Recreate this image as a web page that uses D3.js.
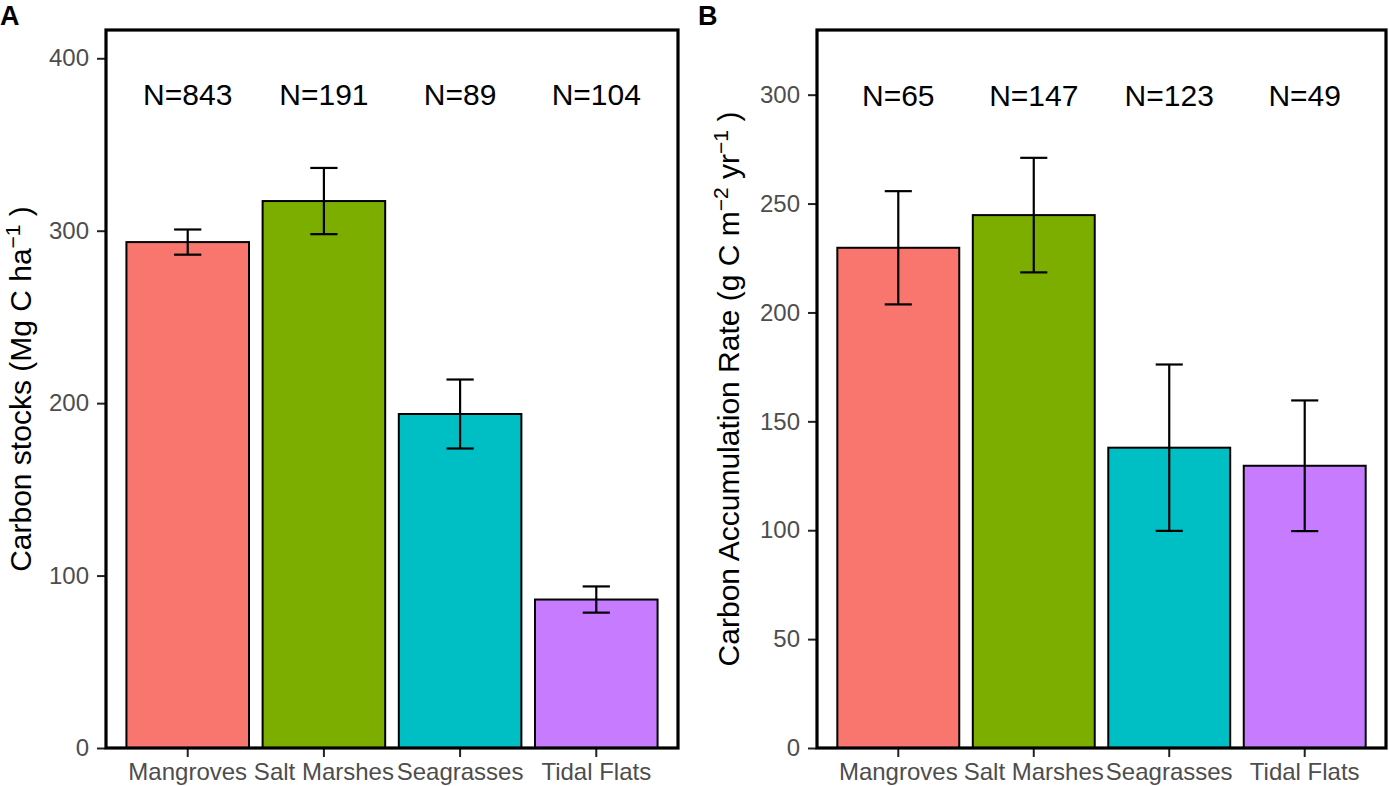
<!DOCTYPE html>
<html>
<head>
<meta charset="utf-8">
<script src="https://cdn.jsdelivr.net/npm/d3@7"></script>
<style>
  html, body { margin: 0; padding: 0; background: #fff; }
  text { font-family: "Liberation Sans", Arial, sans-serif; }
</style>
</head>
<body>
<svg id="chart" width="1389" height="786"></svg>
<script>
// habitats on the x axis (same in both panels)
const habitats = ["Mangroves", "Salt Marshes", "Seagrasses", "Tidal Flats"];
const colors = ["#F8766D", "#7CAE00", "#00BFC4", "#C77CFF"];

// panel A: carbon stocks
const stockMean = [293.4, 317.2, 193.7, 86.1];
const stockErr = [7.3, 19.2, 20.0, 7.6];
const stockN = [843, 191, 89, 104];
const stockTicks = [0, 100, 200, 300, 400];

// panel B: carbon accumulation rate
const rateMean = [229.7, 244.7, 137.9, 129.6];
const rateErr = [26.0, 26.3, 38.2, 30.0];
const rateN = [65, 147, 123, 49];
const rateTicks = [0, 50, 100, 150, 200, 250, 300];

const svg = d3.select("#chart");
const plotTop = 30, plotBottom = 748;

function panel(opt) {
  const x = d3.scaleBand().domain(habitats)
    .range([opt.left, opt.right])
    .paddingInner(0.1).paddingOuter(0.15);
  const y = d3.scaleLinear().domain([0, opt.ymax]).range([plotBottom, plotTop]);
  const g = svg.append("g");
  const rows = habitats.map((h, i) => ({h: h, m: opt.mean[i], e: opt.err[i], n: opt.n[i], c: colors[i]}));

  // bars
  g.selectAll("rect.bar").data(rows).enter().append("rect")
    .attr("class", "bar")
    .attr("x", d => x(d.h))
    .attr("width", x.bandwidth())
    .attr("y", d => y(d.m))
    .attr("height", d => y(0) - y(d.m))
    .attr("fill", d => d.c)
    .attr("stroke", "#000")
    .attr("stroke-width", 2);

  // error bars
  const cap = x.step() * 0.2 / 2;
  const mid = d => x(d.h) + x.bandwidth() / 2;
  const eb = g.selectAll("g.err").data(rows).enter().append("g")
    .attr("stroke", "#000").attr("stroke-width", 2.2);
  eb.append("line")
    .attr("x1", mid).attr("x2", mid)
    .attr("y1", d => y(d.m + d.e)).attr("y2", d => y(d.m - d.e));
  eb.append("line")
    .attr("x1", d => mid(d) - cap).attr("x2", d => mid(d) + cap)
    .attr("y1", d => y(d.m + d.e)).attr("y2", d => y(d.m + d.e));
  eb.append("line")
    .attr("x1", d => mid(d) - cap).attr("x2", d => mid(d) + cap)
    .attr("y1", d => y(d.m - d.e)).attr("y2", d => y(d.m - d.e));

  // N labels
  g.selectAll("text.n").data(rows).enter().append("text")
    .attr("x", mid)
    .attr("y", y(opt.labelY))
    .attr("text-anchor", "middle")
    .attr("font-size", 30)
    .attr("fill", "#000")
    .text(d => "N=" + d.n);

  // y axis
  const yAxis = d3.axisLeft(y).tickValues(opt.ticks).tickSize(8).tickPadding(8).tickSizeOuter(0);
  const ya = g.append("g").attr("transform", `translate(${opt.left - 1},0)`).call(yAxis);
  ya.select(".domain").remove();
  ya.selectAll(".tick line").attr("stroke", "#222").attr("stroke-width", 2);
  ya.selectAll(".tick text").attr("font-size", 24).attr("fill", "#4D4D4D")
    .style("font-family", '"Liberation Sans", Arial, sans-serif');

  // x axis
  const xAxis = d3.axisBottom(x).tickSize(8).tickPadding(6).tickSizeOuter(0);
  const xa = g.append("g").attr("transform", `translate(0,${plotBottom + 1})`).call(xAxis);
  xa.select(".domain").remove();
  xa.selectAll(".tick line").attr("stroke", "#222").attr("stroke-width", 2);
  xa.selectAll(".tick text").attr("font-size", 24).attr("fill", "#4D4D4D")
    .style("font-family", '"Liberation Sans", Arial, sans-serif');

  // panel border
  g.append("rect")
    .attr("x", opt.left).attr("y", plotTop)
    .attr("width", opt.right - opt.left).attr("height", plotBottom - plotTop)
    .attr("fill", "none").attr("stroke", "#000").attr("stroke-width", 3.2);

  // y title with superscripts
  const t = g.append("text")
    .attr("transform", `translate(${opt.titleX},${(plotTop + plotBottom) / 2}) rotate(-90)`)
    .attr("text-anchor", "middle")
    .attr("font-size", 30)
    .attr("fill", "#000");
  opt.title.forEach(p => {
    const s = t.append("tspan").text(p.t);
    if (p.sup) s.attr("font-size", 21).attr("baseline-shift", "super");
  });

  // panel tag
  svg.append("text").attr("x", opt.tagX).attr("y", 25)
    .attr("font-size", 27).attr("font-weight", "bold").text(opt.tag);
}

panel({
  left: 106, right: 678, ymax: 416.4, ticks: stockTicks,
  mean: stockMean, err: stockErr, n: stockN, labelY: 373,
  titleX: 31, tag: "A", tagX: 0,
  title: [{t: "Carbon stocks (Mg C ha"}, {t: "\u22121", sup: true}, {t: " )"}]
});

panel({
  left: 817, right: 1386, ymax: 329.7, ticks: rateTicks,
  mean: rateMean, err: rateErr, n: rateN, labelY: 295,
  titleX: 739, tag: "B", tagX: 698,
  title: [{t: "Carbon Accumulation Rate (g C m"}, {t: "\u22122", sup: true}, {t: " yr"}, {t: "\u22121", sup: true}, {t: " )"}]
});
</script>
</body>
</html>
